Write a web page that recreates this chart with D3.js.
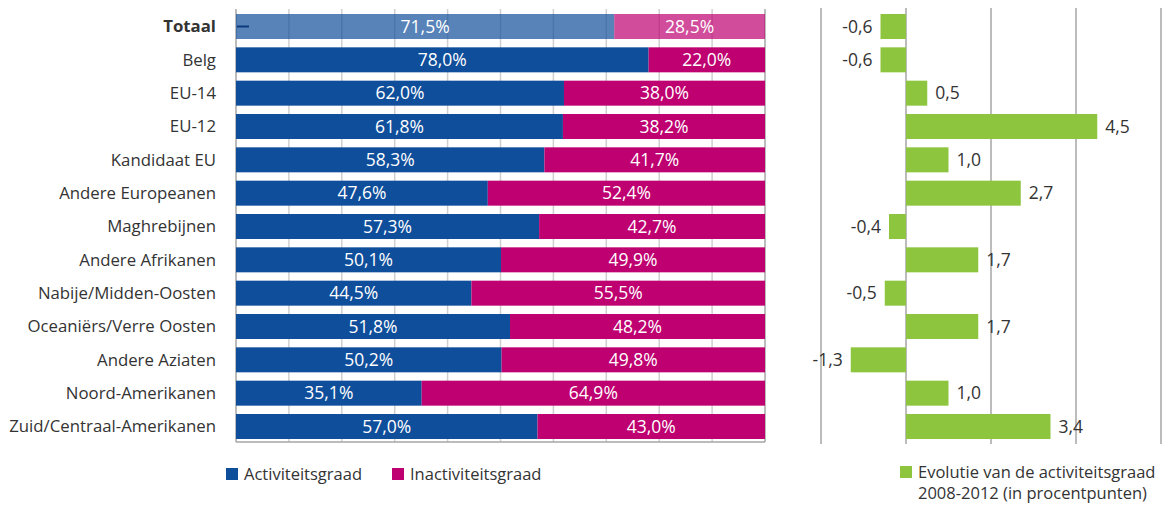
<!DOCTYPE html>
<html>
<head>
<meta charset="utf-8">
<script src="https://cdn.jsdelivr.net/npm/d3@7"></script>
<style>
  body { margin: 0; background: #fff; }
  text { font-family: "Open Sans", "Noto Sans", sans-serif; }
</style>
</head>
<body>
<div id="chart"></div>
<script>
// data
var categories = ["Totaal", "Belg", "EU-14", "EU-12", "Kandidaat EU", "Andere Europeanen",
    "Maghrebijnen", "Andere Afrikanen", "Nabije/Midden-Oosten", "Oceaniërs/Verre Oosten",
    "Andere Aziaten", "Noord-Amerikanen", "Zuid/Centraal-Amerikanen"]
var activiteit = [71.5, 78.0, 62.0, 61.8, 58.3, 47.6, 57.3, 50.1, 44.5, 51.8, 50.2, 35.1, 57.0]
var inactiviteit = [28.5, 22.0, 38.0, 38.2, 41.7, 52.4, 42.7, 49.9, 55.5, 48.2, 49.8, 64.9, 43.0]
var evolutie = [-0.6, -0.6, 0.5, 4.5, 1.0, 2.7, -0.4, 1.7, -0.5, 1.7, -1.3, 1.0, 3.4]
var pctTicks = [0, 10, 20, 30, 40, 50, 60, 70, 80, 90, 100]
var evoTicks = [-2, 0, 2, 4, 6]

var width = 1164
    height = 506

var blue = "#0f4e9b"
    magenta = "#be0070"
    green = "#8dc53e"

var svg = d3.select("#chart")
    .append("svg")
        .attr("width", width)
        .attr("height", height)

var fmt = function(v) { return v.toFixed(1).replace(".", ",") }

// shared vertical band scale
var y = d3.scaleBand()
    .domain(categories)
    .range([10, 443])
    .paddingInner(0.25)
    .paddingOuter(0.12)

// ---- left chart: stacked 100% bars
var x = d3.scaleLinear().domain([0, 100]).range([236, 765])

svg.append("g")
    .selectAll("line")
    .data(pctTicks)
    .enter()
    .append("line")
        .attr("x1", function(d){ return x(d) })
        .attr("x2", function(d){ return x(d) })
        .attr("y1", 9)
        .attr("y2", 442)
        .attr("stroke", function(d){ return (d == 0 || d == 100) ? "#a6a6a6" : "#cfcfcf" })
        .attr("stroke-width", 1.5)

svg.append("line")
    .attr("x1", x(0)).attr("x2", x(100))
    .attr("y1", 442).attr("y2", 442)
    .attr("stroke", "#a6a6a6")
    .attr("stroke-width", 1.5)

var rows = svg.append("g")
    .selectAll("g")
    .data(categories)
    .enter()
    .append("g")

rows.append("rect")
    .attr("x", x(0))
    .attr("y", function(d){ return y(d) })
    .attr("width", function(d,i){ return x(activiteit[i]) - x(0) })
    .attr("height", y.bandwidth())
    .attr("fill", blue)
    .attr("fill-opacity", function(d,i){ return i == 0 ? 0.7 : 1 })

rows.append("rect")
    .attr("x", function(d,i){ return x(activiteit[i]) })
    .attr("y", function(d){ return y(d) })
    .attr("width", function(d,i){ return x(activiteit[i] + inactiviteit[i]) - x(activiteit[i]) })
    .attr("height", y.bandwidth())
    .attr("fill", magenta)
    .attr("fill-opacity", function(d,i){ return i == 0 ? 0.7 : 1 })

rows.append("text")
    .attr("x", function(d,i){ return x(activiteit[i] / 2) })
    .attr("y", function(d){ return y(d) + y.bandwidth() / 2 })
    .attr("dy", "0.35em")
    .attr("text-anchor", "middle")
    .attr("fill", "white")
    .attr("font-size", "17.5px")
    .text(function(d,i){ return fmt(activiteit[i]) + "%" })

rows.append("text")
    .attr("x", function(d,i){ return x(activiteit[i] + inactiviteit[i] / 2) })
    .attr("y", function(d){ return y(d) + y.bandwidth() / 2 })
    .attr("dy", "0.35em")
    .attr("text-anchor", "middle")
    .attr("fill", "white")
    .attr("font-size", "17.5px")
    .text(function(d,i){ return fmt(inactiviteit[i]) + "%" })

// small marker on the Totaal bar
svg.append("line")
    .attr("x1", x(0) + 1).attr("x2", x(0) + 13)
    .attr("y1", y("Totaal") + y.bandwidth() / 2)
    .attr("y2", y("Totaal") + y.bandwidth() / 2)
    .attr("stroke", "#0b3a78")
    .attr("stroke-width", 2)

// category labels
svg.append("g")
    .selectAll("text")
    .data(categories)
    .enter()
    .append("text")
        .attr("x", 216)
        .attr("y", function(d){ return y(d) + y.bandwidth() / 2 })
        .attr("dy", "0.35em")
        .attr("text-anchor", "end")
        .attr("fill", "#333")
        .attr("font-size", "16.8px")
        .attr("font-weight", function(d,i){ return i == 0 ? "bold" : "normal" })
        .text(function(d){ return d })

// ---- right chart: evolution bars
var x2 = d3.scaleLinear().domain([-2, 6]).range([821, 1161])

svg.append("g")
    .selectAll("line")
    .data(evoTicks)
    .enter()
    .append("line")
        .attr("x1", function(d){ return x2(d) })
        .attr("x2", function(d){ return x2(d) })
        .attr("y1", 8)
        .attr("y2", 444)
        .attr("stroke", "#a6a6a6")
        .attr("stroke-width", 1.5)

svg.append("g")
    .selectAll("rect")
    .data(evolutie)
    .enter()
    .append("rect")
        .attr("x", function(d){ return x2(Math.min(0, d)) })
        .attr("y", function(d,i){ return y(categories[i]) })
        .attr("width", function(d){ return Math.abs(x2(d) - x2(0)) })
        .attr("height", y.bandwidth())
        .attr("fill", green)

svg.append("g")
    .selectAll("text")
    .data(evolutie)
    .enter()
    .append("text")
        .attr("x", function(d){ return d < 0 ? x2(d) - 8 : x2(d) + 8 })
        .attr("y", function(d,i){ return y(categories[i]) + y.bandwidth() / 2 })
        .attr("dy", "0.35em")
        .attr("text-anchor", function(d){ return d < 0 ? "end" : "start" })
        .attr("fill", "#333")
        .attr("font-size", "17.5px")
        .text(function(d){ return fmt(d) })

// ---- legends
var legend = [
    {x: 226, y: 474, color: blue, lines: ["Activiteitsgraad"]},
    {x: 392, y: 474, color: magenta, lines: ["Inactiviteitsgraad"]},
    {x: 900, y: 472, color: green, lines: ["Evolutie van de activiteitsgraad", "2008-2012 (in procentpunten)"]}
]

var lg = svg.append("g")
    .selectAll("g")
    .data(legend)
    .enter()
    .append("g")

lg.append("rect")
    .attr("x", function(d){ return d.x })
    .attr("y", function(d){ return d.y - 6 })
    .attr("width", 12)
    .attr("height", 12)
    .attr("fill", function(d){ return d.color })

// one text per line so the lines don't share a box
lg.each(function(d){
    var g = d3.select(this)
    d.lines.forEach(function(l, i){
        g.append("text")
            .attr("x", d.x + 18)
            .attr("y", d.y + i * 21)
            .attr("dy", "0.35em")
            .attr("fill", "#333")
            .attr("font-size", "16.5px")
            .text(l)
    })
})
</script>
</body>
</html>
